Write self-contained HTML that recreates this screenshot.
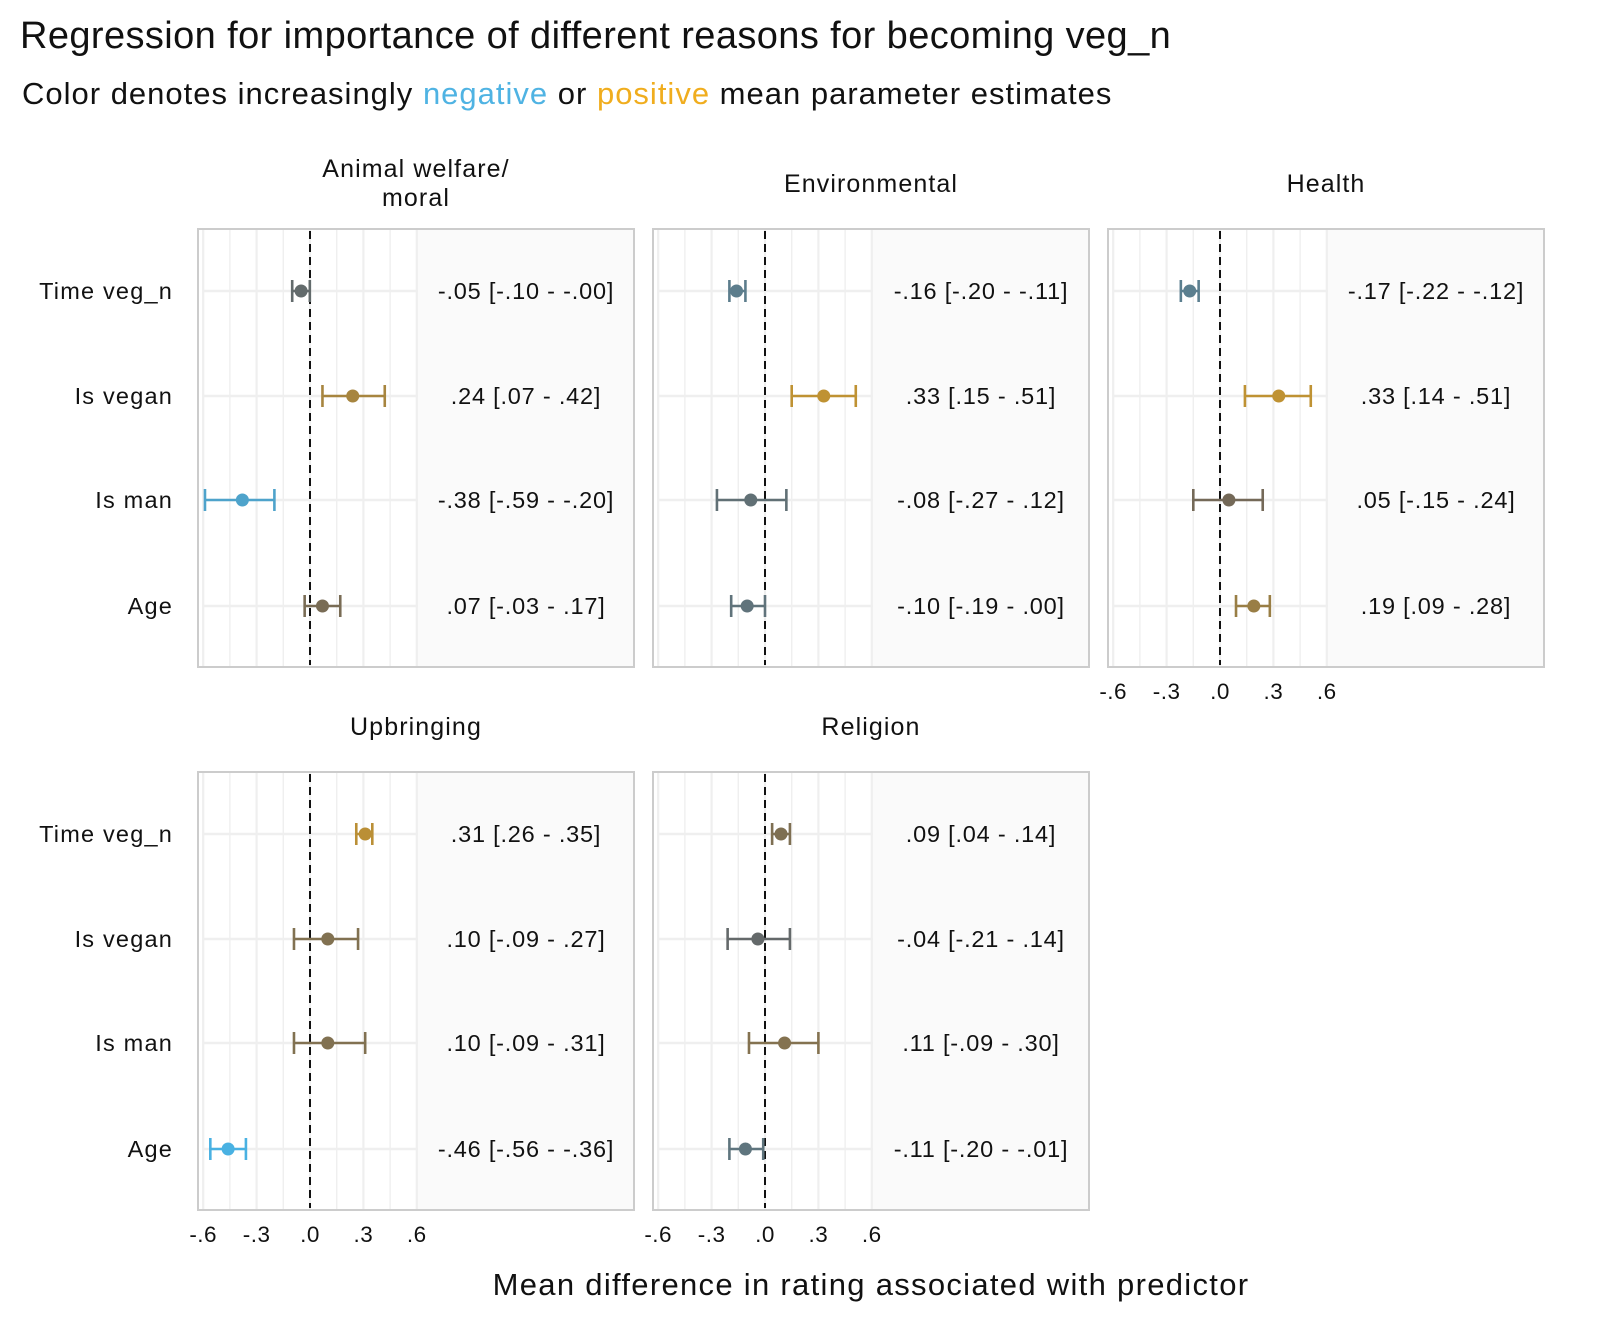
<!DOCTYPE html>
<html><head><meta charset="utf-8"><style>
body{margin:0;background:#fff;}
svg{display:block;font-family:"Liberation Sans",sans-serif;}
</style></head><body>
<svg id="chart" width="1600" height="1334" viewBox="0 0 1600 1334" xmlns="http://www.w3.org/2000/svg">
<text x="20" y="48" font-size="38" letter-spacing="0.4" fill="#111">Regression for importance of different reasons for becoming veg_n</text>
<text x="22" y="104" font-size="31" letter-spacing="1" fill="#111">Color denotes increasingly <tspan fill="#4fb3e3">negative</tspan> or <tspan fill="#f0ad1e">positive</tspan> mean parameter estimates</text>
<text x="871" y="1295" font-size="31" letter-spacing="1.3" text-anchor="middle" fill="#111">Mean difference in rating associated with predictor</text>
<g id="panels"></g>
</svg>
<script>
const predictors = ["Time veg_n","Is vegan","Is man","Age"];
const facets = ["Animal welfare/\nmoral","Environmental","Health","Upbringing","Religion"];
const est0 = [-0.05, 0.24, -0.38, 0.07];
const lo0  = [-0.10, 0.07, -0.59, -0.03];
const hi0  = [-0.001, 0.42, -0.20, 0.17];
const est1 = [-0.16, 0.33, -0.08, -0.10];
const lo1  = [-0.20, 0.15, -0.27, -0.19];
const hi1  = [-0.11, 0.51, 0.12, 0.00];
const est2 = [-0.17, 0.33, 0.05, 0.19];
const lo2  = [-0.22, 0.14, -0.15, 0.09];
const hi2  = [-0.12, 0.51, 0.24, 0.28];
const est3 = [0.31, 0.10, 0.10, -0.46];
const lo3  = [0.26, -0.09, -0.09, -0.56];
const hi3  = [0.35, 0.27, 0.31, -0.36];
const est4 = [0.09, -0.04, 0.11, -0.11];
const lo4  = [0.04, -0.21, -0.09, -0.20];
const hi4  = [0.14, 0.14, 0.30, -0.01];
const ticks = [-0.6,-0.3,0,0.3,0.6];
const tickLabels = ["-.6","-.3",".0",".3",".6"];

const ests=[est0,est1,est2,est3,est4], los=[lo0,lo1,lo2,lo3,lo4], his=[hi0,hi1,hi2,hi3,hi4];
const NS="http://www.w3.org/2000/svg";
const root=document.getElementById('panels');
function mk(tag,attrs,parent){const e=document.createElementNS(NS,tag);for(const k in attrs)e.setAttribute(k,attrs[k]);(parent||root).appendChild(e);return e;}
function fmt(v){const s=Math.abs(v).toFixed(2).replace(/^0/,'');return (v<0?'-':'')+s;}
function mix(a,b,t){return a.map((x,i)=>Math.round(x+(b[i]-x)*t));}
function color(v){const base=[102,98,94],pos=[232,168,32],neg=[72,180,232];
 const t=Math.min(1,Math.abs(v)/0.48);const c=mix(base,v>=0?pos:neg,t);return `rgb(${c[0]},${c[1]},${c[2]})`;}
const PW=436,PH=438,lefts=[198,653,1108,198,653],tops=[229,229,229,772,772];
const rowOff=[62,167,271,377], SC=178;
for(let f=0;f<5;f++){
 const L=lefts[f],T=tops[f];
 const g=mk('g',{});
 
 
 const x=v=>L+112+v*SC;
 mk('rect',{x:L,y:T,width:PW,height:PH,fill:'#fff'},g);
 mk('rect',{x:L+220,y:T,width:PW-220,height:PH,fill:'#fafafa'},g);
 for(let k=-4;k<=4;k++){const v=k*0.15;
  mk('line',{x1:x(v),x2:x(v),y1:T+1,y2:T+PH-1,stroke:'#efefef','stroke-width':k%2===0?2.2:1.4},g);}
 for(let r=0;r<4;r++){mk('line',{x1:L+6,x2:L+220,y1:T+rowOff[r],y2:T+rowOff[r],stroke:'#efefef','stroke-width':2.5},g);}
 mk('line',{x1:x(0),x2:x(0),y1:T+2,y2:T+PH-2,stroke:'#111','stroke-width':2,'stroke-dasharray':'8,5'},g);
 for(let r=0;r<4;r++){
  const e=ests[f][r],lo=los[f][r],hi=his[f][r],y=T+rowOff[r],c=color(e);
  const bar=mk('g',{},g);
  
  
  mk('line',{x1:x(lo),x2:x(hi),y1:y,y2:y,stroke:c,'stroke-width':2.6},bar);
  mk('line',{x1:x(lo),x2:x(lo),y1:y-11,y2:y+11,stroke:c,'stroke-width':2.6},bar);
  mk('line',{x1:x(hi),x2:x(hi),y1:y-11,y2:y+11,stroke:c,'stroke-width':2.6},bar);
  mk('circle',{cx:x(e),cy:y,r:6.5,fill:c},bar);
  const t=mk('text',{x:L+328,y:y+8,'font-size':23.5,'letter-spacing':0.8,'text-anchor':'middle',fill:'#111'},g);
  t.textContent=`${fmt(e)} [${fmt(lo)} - ${fmt(hi)}]`;
  
  
  if(f===0||f===3){const yl=mk('text',{x:L-25,y:y+8,'font-size':23.5,'letter-spacing':1.2,'text-anchor':'end',fill:'#111'},g);
   yl.textContent=predictors[r];
   
   }
 }
 mk('rect',{x:L,y:T,width:PW,height:PH,fill:'none',stroke:'#cccccc','stroke-width':2},g);
 const lines=facets[f].split('\n');
 lines.forEach((s,i)=>{const ft=mk('text',{x:L+PW/2,y:lines.length>1?T-52+i*29:T-37,'font-size':25,'letter-spacing':1.1,'text-anchor':'middle',fill:'#111'},g);
  ft.textContent=s;
  
  });
 if(f>=2){ticks.forEach((v,i)=>{const tl=mk('text',{x:x(v),y:T+PH+32,'font-size':22.5,'letter-spacing':0.5,'text-anchor':'middle',fill:'#111'},g);
  tl.textContent=tickLabels[i];
  
  });}
}
</script>
</body></html>
